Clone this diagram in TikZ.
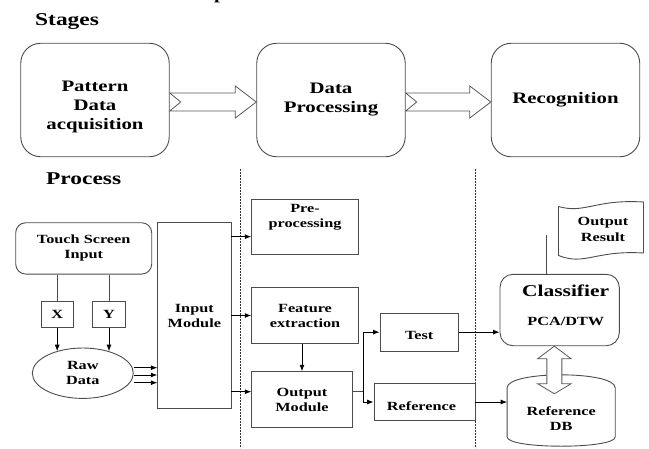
\documentclass[tikz,border=0pt]{standalone}
\usepackage{fontspec}
\setmainfont{Liberation Serif}[FakeStretch=1.3]
\usetikzlibrary{shapes.geometric,arrows.meta,calc}

% font sizes used in the diagram
\newcommand\dghead{\fontsize{18}{20}\selectfont\bfseries}
\newcommand\dgbig{\fontsize{16}{19}\selectfont\bfseries}
\newcommand\dgsmall{\fontsize{12.5}{15}\selectfont\bfseries}

\begin{document}
\begin{tikzpicture}[x=1pt,y=-1pt,
  wire/.style={draw=black!70, line width=0.9pt},
  box/.style={wire, inner sep=0pt, align=center, font=\dgsmall},
  txt/.style={inner sep=0pt, align=center, font=\dgsmall},
  stagebox/.style={box, rounded corners=20pt, minimum width=148.5,
    minimum height=113.5, font=\dgbig},
  hollow/.style={draw=black!65, line width=0.8pt, fill=white, line join=miter},
  arr/.style={draw=black, line width=0.8pt, -{Latex[length=6.5pt,width=5pt]}},
  dotline/.style={draw=black!80, line width=0.8pt, dash pattern=on 1.6pt off 1.4pt},
  heading/.style={anchor=base west, inner sep=0pt, font=\dghead}]

\useasboundingbox (0,0) rectangle (649,448);

% tail of the caption line above
\node[anchor=base west, inner sep=0pt, font=\dgbig] (frag) at (214,-1) {p};

% ---------- stages ----------
\node[heading] (stg) at (35,25.5) {Stages};

\node[stagebox] (s1) at (95,100) {};
\node[txt, font=\dgbig] (s1t) at ($(s1.center)+(0,7.4)$) {Pattern\\Data\\acquisition};
\node[stagebox] (s2) at (331,100) {Data\\Processing};
\node[stagebox] (s3) at (565.5,100) {Recognition};

% notched block arrow between two stage boxes
\newcommand\stagearrow[2]{%
  \draw[hollow] ($(#1.east)+(0,-7)$) -- ($(#2.west)+(-21,-7)$)
    -- ($(#2.west)+(-21,-14)$) -- ($(#2.west)+(0,2)$)
    -- ($(#2.west)+(-21,18)$) -- ($(#2.west)+(-21,11)$)
    -- ($(#1.east)+(0,11)$) -- ($(#1.east)+(11,2)$) -- cycle;}
\stagearrow{s1}{s2}
\stagearrow{s2}{s3}

% ---------- process ----------
\node[heading] (prc) at (46,184) {Process};

% stage separators
\coordinate (d1a) at (240.5,169); \coordinate (d1b) at (240.5,448);
\coordinate (d2a) at (475.7,169); \coordinate (d2b) at (475.7,448);
\draw[dotline] (d1a) -- (d1b);
\draw[dotline] (d2a) -- (d2b);

% acquisition
\node[box, rounded corners=10pt, minimum width=136, minimum height=51.3]
  (ts) at (83.7,248.4) {Touch Screen\\Input};
\node[box, minimum width=32.3, minimum height=25.6] (xb) at (57.2,314.5) {X};
\node[box, minimum width=33.4, minimum height=25.6] (yb) at (109,314.5) {Y};
\node[box, ellipse, minimum width=101, minimum height=50.4] (raw) at (82.8,373.2) {Raw\\Data};
\node[box, minimum width=73.3, minimum height=185.6] (im) at (194.35,315.5) {Input\\Module};

\draw[wire] (xb.north |- ts.south) -- (xb.north);
\draw[wire] (yb.north |- ts.south) -- (yb.north);
\draw[arr] (xb.south) -- (xb.south |- raw.140);
\draw[arr] (yb.south) -- (yb.south |- raw.40);
\foreach \d [count=\i] in {-5.5,1.8,9.5}{
  \coordinate (rw\i) at ($(raw.east)+(0,\d)$);
  \draw[arr] (rw\i) -- (rw\i -| im.west);
}

% processing
\node[box, minimum width=106.6, minimum height=55.3] (pre) at (305,226.65) {};
\node[txt] (pret) at ($(pre.center)+(0,-9)$) {Pre-\\processing};
\node[box, minimum width=106.6, minimum height=55.6] (fe) at (305,315.5) {Feature\\extraction};
\node[box, minimum width=100.6, minimum height=56] (out) at (302,399.7) {Output\\Module};

\coordinate (pa) at ($(pre.west)+(0,10)$);
\draw[arr] (pa -| im.east) -- (pa);
\draw[arr] (fe.west -| im.east) -- (fe.west);
\coordinate (oa) at ($(out.west)+(0,-8)$);
\draw[arr] (oa -| im.east) -- (oa);
\draw[arr] (fe.south -| out.north) -- (out.north);

\node[box, minimum width=78.3, minimum height=37.7] (test) at (419.15,332.15) {};
\node[txt] (testt) at ($(test.center)+(0,3.6)$) {Test};
\node[box, minimum width=101, minimum height=37.4] (ref) at (424.5,402) {};
\node[txt] (reft) at ($(ref.center)+(-3,3.8)$) {Reference};

\coordinate (jx) at ($(out.east)+(11,-8.5)$);
\draw[wire] (jx -| out.east) -- (jx);
\draw[arr] (jx) |- (test.west);
\draw[arr] (jx) |- (ref.west);

% recognition
\node[box, rounded corners=13pt, minimum width=119.3, minimum height=71.4] (cl) at (559.65,310) {};
\node[anchor=base, inner sep=0pt, font=\fontsize{16.5}{19}\selectfont\bfseries]
  (clt) at ($(cl.center)+(6,-13.3)$) {Classifier};
\node[anchor=base, inner sep=0pt, font=\dgsmall] (clp) at ($(cl.center)+(6.2,15)$) {PCA/DTW};
\draw[arr] (test.east) -- (test.east -| cl.west);

\coordinate (ctop) at ($(cl.north)+(-13.6,-39.3)$);
\draw[wire] (ctop |- cl.north) -- (ctop);

% output result sheet
\draw[wire, fill=white] (558.5,206.5) .. controls (585,214) and (595,199) .. (643.5,202)
  -- (643.5,253) .. controls (595,250) and (585,266) .. (558.5,255.5) -- cycle;
\node[txt, font=\fontsize{12.5}{16.5}\selectfont\bfseries] (ores) at (603,229.5) {Output\\Result};

% reference database cylinder
\node[minimum width=107.7, minimum height=71, inner sep=0pt] (db) at (561.15,410.5) {};
\draw[wire, fill=white]
  ($(db.north west)+(0,13)$) .. controls ($(db.north west)+(0,-4.3)$)
    and ($(db.north east)+(0,-4.3)$) .. ($(db.north east)+(0,13)$)
  -- ($(db.south east)+(0,-9.3)$) .. controls ($(db.south east)+(0,3.1)$)
    and ($(db.south west)+(0,3.1)$) .. ($(db.south west)+(0,-9.3)$) -- cycle;
\node[txt] (dbt) at ($(db.center)+(0,8.2)$) {Reference\\DB};
\draw[arr] (ref.east) -- (ref.east -| db.west);

% two-way block arrow between classifier and database
\coordinate (dbl) at ($(cl.south)+(-5.3,0)$);
\draw[hollow] (dbl) -- ++(16.7,12.6) -- ++(-9.2,0) -- ++(0,25) -- ++(9.2,0)
  -- ++(-16.7,10) -- ++(-16.7,-10) -- ++(9.2,0) -- ++(0,-25) -- ++(-9.2,0) -- cycle;

\end{tikzpicture}
\end{document}
